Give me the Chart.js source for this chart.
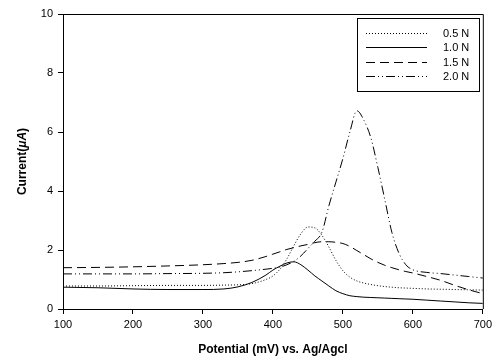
<!DOCTYPE html>
<html>
<head>
<meta charset="utf-8">
<script src="https://cdn.jsdelivr.net/npm/chart.js@4"></script>
<style>
  html, body { margin: 0; padding: 0; background: #fff; }
  #wrap { width: 496px; height: 361px; }
</style>
</head>
<body>
<div id="wrap"><canvas id="cv" width="496" height="361"></canvas></div>
<script>
;(function () {
    'use strict';

    // potential (mV) vs. Ag/AgCl, shared by all four curves
    var potentials = [100, 150, 200, 250, 300, 330, 350, 370, 390, 400, 410, 420, 430, 440, 450,
                      460, 470, 480, 490, 500, 510, 520, 530, 540, 550, 560, 570, 580, 590, 600,
                      620, 640, 660, 680, 700];

    var current05 = [0.78, 0.78, 0.79, 0.80, 0.80, 0.81, 0.82, 0.86, 1.00, 1.12, 1.35, 1.70, 2.15, 2.55, 2.78,
                     2.75, 2.50, 2.10, 1.65, 1.30, 1.08, 0.95, 0.88, 0.83, 0.79, 0.76, 0.74, 0.72, 0.71, 0.70,
                     0.68, 0.67, 0.66, 0.65, 0.64];

    var current10 = [0.74, 0.72, 0.68, 0.66, 0.66, 0.68, 0.75, 0.90, 1.15, 1.32, 1.45, 1.56, 1.60, 1.50, 1.32,
                     1.12, 0.95, 0.78, 0.62, 0.52, 0.45, 0.42, 0.40, 0.39, 0.38, 0.37, 0.36, 0.35, 0.34, 0.33,
                     0.30, 0.27, 0.24, 0.21, 0.19];

    var current15 = [1.40, 1.41, 1.43, 1.46, 1.50, 1.54, 1.58, 1.65, 1.78, 1.86, 1.94, 2.02, 2.08, 2.14, 2.19,
                     2.25, 2.28, 2.28, 2.26, 2.22, 2.12, 1.98, 1.84, 1.70, 1.58, 1.48, 1.40, 1.33, 1.27, 1.22,
                     1.10, 0.97, 0.80, 0.65, 0.52];

    var current20 = [1.19, 1.19, 1.19, 1.20, 1.21, 1.23, 1.26, 1.30, 1.35, 1.38, 1.42, 1.50, 1.62, 1.80, 2.05,
                     2.30, 2.60, 3.50, 4.30, 5.10, 6.00, 6.72, 6.40, 5.80, 4.80, 3.70, 2.60, 1.90, 1.50, 1.33,
                     1.24, 1.20, 1.15, 1.10, 1.05];

    var seriesLabels = ['0.5 N', '1.0 N', '1.5 N', '2.0 N'];
    var xTicks = [100, 200, 300, 400, 500, 600, 700];
    var yTicks = [0, 2, 4, 6, 8, 10];

    var FONT = '"Liberation Sans", Arial, sans-serif';

    function pts(values) {
        return potentials.map(function (p, i) { return { x: p, y: values[i] }; });
    }

    function series(label, values, dash) {
        return {
            label: label,
            data: pts(values),
            borderColor: '#000',
            borderWidth: 1,
            borderDash: dash,
            pointRadius: 0,
            fill: false,
            cubicInterpolationMode: 'monotone'
        };
    }

    // frame, axis titles and the boxed legend
    var decorations = {
        id: 'decorations',
        afterDraw: function (chart) {
            var ctx = chart.ctx;
            var a = chart.chartArea;
            ctx.save();

            ctx.strokeStyle = '#000';
            ctx.lineWidth = 1;
            ctx.setLineDash([]);
            ctx.beginPath();
            ctx.moveTo(a.left, a.top + 0.5);
            ctx.lineTo(a.right + 0.5, a.top + 0.5);
            ctx.lineTo(a.right + 0.5, a.bottom);
            ctx.stroke();

            // x title
            ctx.fillStyle = '#000';
            ctx.font = 'bold 12px ' + FONT;
            ctx.textAlign = 'center';
            ctx.textBaseline = 'middle';
            ctx.fillText('Potential (mV) vs. Ag/Agcl', (a.left + a.right) / 2, 350);

            // y title, with italic unit
            var parts = [
                { t: 'Current(', f: 'bold 12px ' + FONT },
                { t: '\u03bcA', f: 'italic bold 12px ' + FONT },
                { t: ')', f: 'bold 12px ' + FONT }
            ];
            var total = 0;
            parts.forEach(function (p) { ctx.font = p.f; p.w = ctx.measureText(p.t).width; total += p.w; });
            ctx.translate(23, (a.top + a.bottom) / 2);
            ctx.rotate(-Math.PI / 2);
            ctx.textAlign = 'left';
            var x = -total / 2;
            parts.forEach(function (p) { ctx.font = p.f; ctx.fillText(p.t, x, 0); x += p.w; });
            ctx.setTransform(1, 0, 0, 1, 0, 0);

            // legend
            ctx.strokeRect(357.5, 18.5, 122, 73);
            ctx.font = '11px ' + FONT;
            ctx.textAlign = 'left';
            chart.data.datasets.forEach(function (ds, i) {
                var y = Math.round(33 + i * 14.3) + 0.5;
                ctx.setLineDash(ds.borderDash || []);
                ctx.beginPath();
                ctx.moveTo(366, y);
                ctx.lineTo(427, y);
                ctx.stroke();
                ctx.setLineDash([]);
                ctx.fillText(ds.label, 443, y);
            });

            ctx.restore();
        }
    };

    var chart = new Chart(document.getElementById('cv'), {
        type: 'line',
        data: {
            datasets: [
                series(seriesLabels[0], current05, [1, 2]),
                series(seriesLabels[1], current10, []),
                series(seriesLabels[2], current15, [9, 5]),
                series(seriesLabels[3], current20, [9, 3, 1, 3, 1, 3])
            ]
        },
        options: {
            responsive: false,
            animation: false,
            layout: { padding: { top: 14, right: 12, left: 0, bottom: 0 } },
            plugins: {
                legend: { display: false },
                tooltip: { enabled: false }
            },
            scales: {
                x: {
                    type: 'linear',
                    min: 100,
                    max: 700,
                    afterFit: function (s) { s.height = 52; },
                    afterBuildTicks: function (s) { s.ticks = xTicks.map(function (v) { return { value: v }; }); },
                    ticks: { color: '#000', font: { family: FONT, size: 11 }, padding: 4, maxRotation: 0 },
                    grid: { drawOnChartArea: false, drawTicks: true, tickLength: 5, color: '#000' },
                    border: { color: '#000', width: 1 }
                },
                y: {
                    min: 0,
                    max: 10,
                    afterFit: function (s) { s.width = 63; },
                    afterBuildTicks: function (s) { s.ticks = yTicks.map(function (v) { return { value: v }; }); },
                    ticks: { color: '#000', font: { family: FONT, size: 11 }, padding: 5 },
                    grid: { drawOnChartArea: false, drawTicks: true, tickLength: 5, color: '#000' },
                    border: { color: '#000', width: 1 }
                }
            }
        },
        plugins: [decorations]
    });
})();
</script>
</body>
</html>
